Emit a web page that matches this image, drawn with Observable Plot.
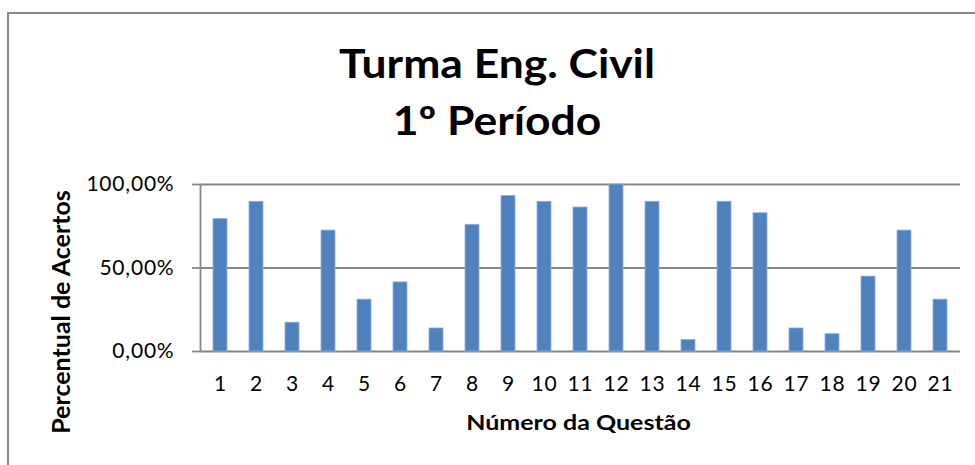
<!DOCTYPE html>
<html><head><meta charset="utf-8">
<script src="https://cdn.jsdelivr.net/npm/d3@7"></script>
<script src="https://cdn.jsdelivr.net/npm/@observablehq/plot@0.6"></script>
<style>
body{margin:0;background:#fff;}
#wrap{position:relative;width:975px;height:465px;overflow:hidden;font-family:Lato,"Open Sans",sans-serif;color:#000;}
#border{position:absolute;left:7px;top:12px;width:1100px;height:600px;border-left:2px solid #898989;border-top:2px solid #898989;box-sizing:border-box;}
.t{position:absolute;left:0;width:994px;text-align:center;font-weight:700;font-size:40px;line-height:57px;white-space:nowrap;transform:scaleX(1.11);transform-origin:497px 0;}
#xl{position:absolute;left:380px;width:397px;text-align:center;top:407px;font-weight:700;font-size:20px;line-height:30px;white-space:nowrap;transform:scaleX(1.25);transform-origin:198.5px 0;}
#yl{position:absolute;left:60px;top:312px;transform:translate(-50%,-50%) rotate(-90deg);font-weight:700;font-size:25px;line-height:28px;white-space:nowrap;}
#chart{position:absolute;left:0;top:0;}
</style></head>
<body>
<div id="wrap">
  <div id="border"></div>
  <div id="chart"></div>
  <div class="t" style="top:35px">Turma Eng. Civil</div>
  <div class="t" style="top:92px">1º Período</div>
  <div id="xl">Número da Questão</div>
  <div id="yl">Percentual de Acertos</div>
</div>
<script>
const questions = ["1","2","3","4","5","6","7","8","9","10","11","12","13","14","15","16","17","18","19","20","21"];
const acertos = [79.31, 89.66, 17.24, 72.41, 31.03, 41.38, 13.79, 75.86, 93.10, 89.66, 86.21, 100.00, 89.66, 6.90, 89.66, 82.76, 13.79, 10.34, 44.83, 72.41, 31.03];
const yTicks = [0, 50, 100];

const data = questions.map((q, i) => ({q, v: acertos[i]}));
const fmt = d => d.toFixed(2).replace(".", ",") + "%";
const gray = "#878787";

const chart = Plot.plot({
  width: 975,
  height: 465,
  marginLeft: 200,
  marginRight: 15,
  marginTop: 184,
  marginBottom: 114,
  style: {background: "none", fontFamily: "Lato, 'Open Sans', sans-serif", fontSize: "21px", letterSpacing: "0.8px", color: "#000"},
  x: {domain: questions, paddingInner: 0.6, paddingOuter: 0.3, label: null},
  y: {domain: [0, 100], label: null},
  marks: [
    Plot.ruleY(yTicks, {stroke: gray, strokeWidth: 1.8}),
    Plot.barY(data, {x: "q", y: "v", fill: "#4f81bd", stroke: "#8fb0da", strokeWidth: 0.8}),
    Plot.frame({anchor: "left", stroke: gray, strokeWidth: 1.8}),
    Plot.axisY({ticks: yTicks, tickSize: 8, tickPadding: 18, tickFormat: fmt, stroke: gray, strokeWidth: 1.8, label: null}),
    Plot.axisX({tickSize: 0, tickPadding: 25, label: null})
  ]
});
document.getElementById("chart").appendChild(chart);
</script>
</body></html>
